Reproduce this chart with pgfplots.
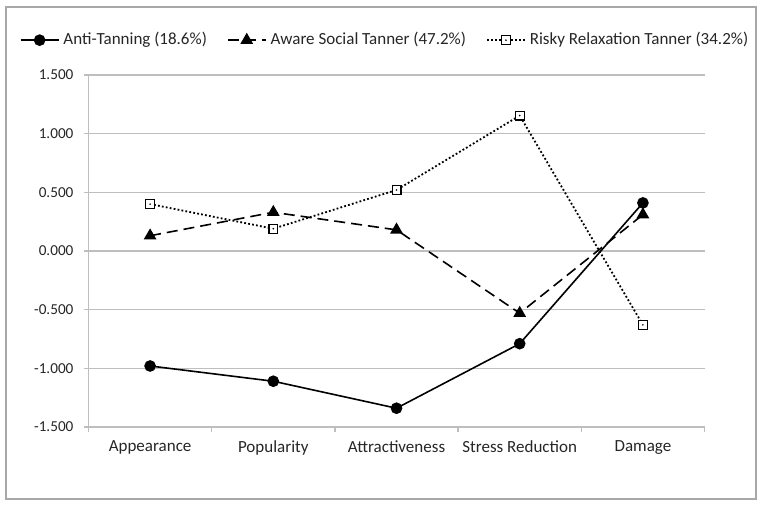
\documentclass[border=0pt]{standalone}
\usepackage{pgfplots}
\pgfplotsset{compat=1.18}
\usepackage{fontspec}
\setmainfont{Carlito}
\definecolor{gridgray}{HTML}{BEBEBE}
\definecolor{framegray}{HTML}{A8A8A8}
\pgfdeclareplotmark{sqdot}{%
  \pgfpathrectangle{\pgfpoint{-\pgfplotmarksize}{-\pgfplotmarksize}}{\pgfpoint{2\pgfplotmarksize}{2\pgfplotmarksize}}%
  \pgfusepathqfillstroke
  \begin{pgfscope}%
  \pgfsetfillcolor{black}%
  \pgfpathcircle{\pgfpointorigin}{0.45pt}%
  \pgfusepathqfill
  \end{pgfscope}}
\begin{document}
\begin{tikzpicture}
\useasboundingbox (0,0) rectangle (382pt,253.5pt);
\draw[framegray, line width=0.8pt] (3pt,4pt) rectangle (378pt,250pt);
\begin{axis}[
  at={(44.25pt,40pt)}, anchor=south west,
  scale only axis, width=308pt, height=176pt,
  xmin=-0.5, xmax=4.5, ymin=-1.5, ymax=1.5,
  xtick={0,1,2,3,4},
  xticklabels={Appearance,Popularity,Attractiveness,Stress Reduction,Damage},
  major x tick style={draw=none},
  minor xtick={-0.5,0.5,1.5,2.5,3.5,4.5},
  ytick={-1.5,-1,-0.5,0,0.5,1,1.5},
  ymajorgrids,
  grid style={gridgray, line width=0.75pt},
  axis x line*=bottom, axis y line*=left,
  axis line style={gridgray, line width=0.75pt, -},
  tick align=outside,
  every tick/.style={gridgray, line width=0.75pt},
  major tick length=2.5pt, minor tick length=2.5pt,
  tick label style={text=black!85},
  xticklabel style={yshift=-1pt, font=\fontsize{8.5}{10}\selectfont},
  yticklabel style={font=\fontsize{7.6}{9}\selectfont, xshift=-1.5pt, /pgf/number format/.cd, fixed, fixed zerofill, precision=3, assume math mode=true},
  clip=false,
  legend columns=3,
  legend style={at={(0.483,1.099)}, anchor=center, draw=none, fill=none,
    font=\fontsize{8.5}{10}\selectfont, text=black!85,
    /tikz/every even column/.append style={column sep=8pt},
    inner sep=0pt},
  legend image code/.code={\draw[mark repeat=2,mark phase=2,#1] plot coordinates {(0pt,0pt) (9.5pt,0pt) (19pt,0pt)};},
]
\addplot[black, line width=0.8pt, mark=*, mark size=2.5pt, mark options={solid, fill=black}]
  coordinates {(0,-0.98) (1,-1.11) (2,-1.34) (3,-0.79) (4,0.41)};
\addlegendentry{Anti-Tanning (18.6\%)}
\addplot[black, line width=0.8pt, dash pattern=on 5.5pt off 3pt, mark=triangle*, mark size=2.9pt, mark options={solid, fill=black}]
  coordinates {(0,0.13) (1,0.33) (2,0.18) (3,-0.53) (4,0.31)};
\addlegendentry{Aware Social Tanner (47.2\%)}
\addplot[black, line width=0.9pt, dash pattern=on 0.9pt off 1.1pt, mark=sqdot, mark size=2.2pt, mark options={solid, fill=white, line width=0.6pt}]
  coordinates {(0,0.40) (1,0.19) (2,0.52) (3,1.154) (4,-0.63)};
\addlegendentry{Risky Relaxation Tanner (34.2\%)}
\end{axis}
\end{tikzpicture}
\end{document}
